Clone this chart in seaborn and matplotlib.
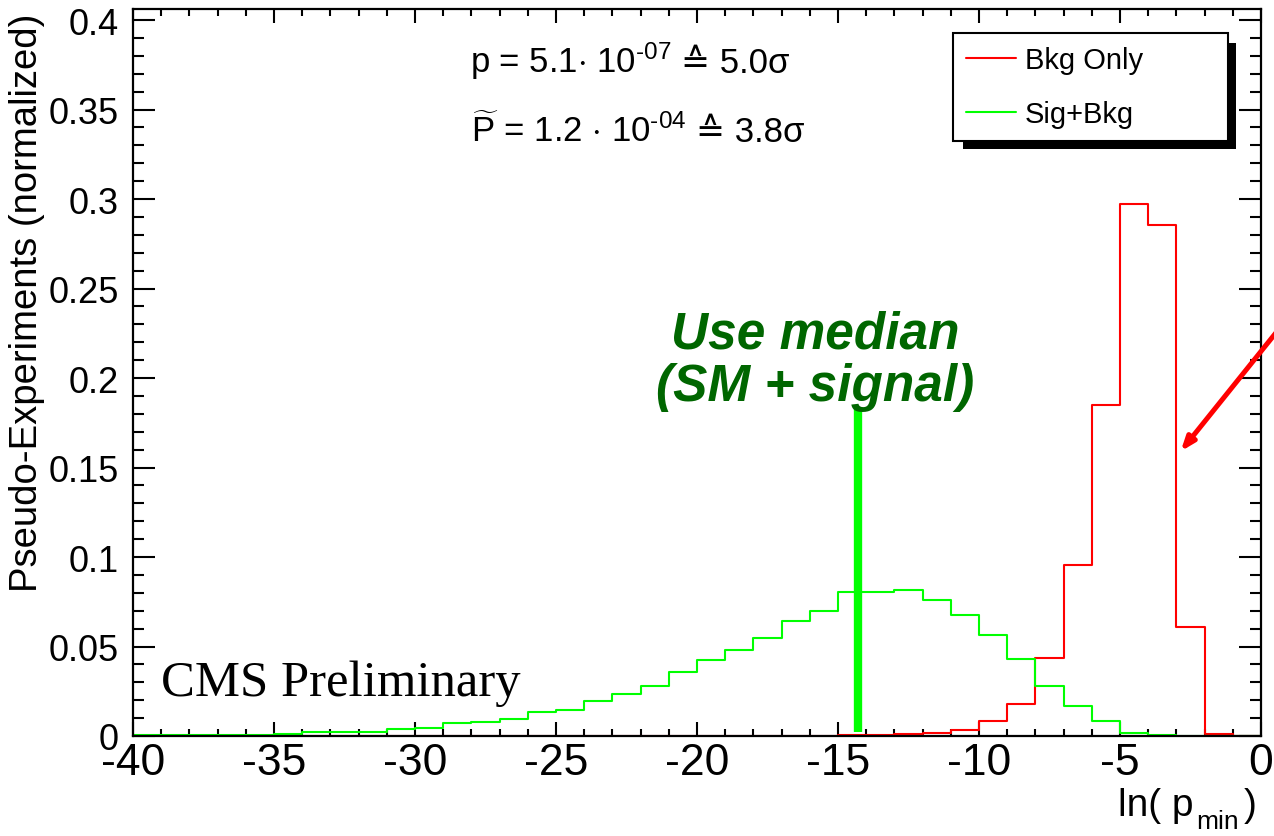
import matplotlib
matplotlib.use("Agg")
import matplotlib.pyplot as plt
import seaborn as sns
import numpy as np
from matplotlib.ticker import MultipleLocator, FixedLocator, FixedFormatter
from matplotlib.patches import Rectangle
from matplotlib.lines import Line2D
from matplotlib.offsetbox import TextArea, HPacker, AnnotationBbox

# ---------------- data ----------------
bin_edges = [-40, -39, -38, -37, -36, -35, -34, -33, -32, -31, -30,
             -29, -28, -27, -26, -25, -24, -23, -22, -21, -20,
             -19, -18, -17, -16, -15, -14, -13, -12, -11, -10,
             -9, -8, -7, -6, -5, -4, -3, -2, -1, 0]
bin_centers = [-39.5, -38.5, -37.5, -36.5, -35.5, -34.5, -33.5, -32.5, -31.5, -30.5,
               -29.5, -28.5, -27.5, -26.5, -25.5, -24.5, -23.5, -22.5, -21.5, -20.5,
               -19.5, -18.5, -17.5, -16.5, -15.5, -14.5, -13.5, -12.5, -11.5, -10.5,
               -9.5, -8.5, -7.5, -6.5, -5.5, -4.5, -3.5, -2.5, -1.5, -0.5]
sig_bkg = [0.0004, 0.0004, 0.0004, 0.0004, 0.0004, 0.0010, 0.0023, 0.0023, 0.0023, 0.0038,
           0.0042, 0.0074, 0.0079, 0.0094, 0.0133, 0.0148, 0.0194, 0.0236, 0.0280, 0.0356,
           0.0422, 0.0478, 0.0546, 0.0644, 0.0701, 0.0806, 0.0806, 0.0815, 0.0760, 0.0677,
           0.0563, 0.0433, 0.0282, 0.0169, 0.0082, 0.0016, 0.0008, 0.0002, 0.0, 0.0]
bkg_only = [0.0, 0.0, 0.0, 0.0, 0.0, 0.0, 0.0, 0.0, 0.0, 0.0,
            0.0, 0.0, 0.0, 0.0, 0.0, 0.0, 0.0, 0.0, 0.0, 0.0,
            0.0, 0.0, 0.0, 0.0, 0.0, 0.0003, 0.0005, 0.0010, 0.0019, 0.0033,
            0.0082, 0.0181, 0.0437, 0.0957, 0.1850, 0.2975, 0.2855, 0.0608, 0.0010, 0.0]
series_labels = ["Bkg Only", "Sig+Bkg"]
median_x = -14.3
median_top = 0.184
median_bottom = 0.002
arrow_tip = (-2.85, 0.159)
arrow_tail = (0.8, 0.2306)
y_ticks = [0, 0.05, 0.1, 0.15, 0.2, 0.25, 0.3, 0.35, 0.4]
y_tick_labels = ["0", "0.05", "0.1", "0.15", "0.2", "0.25", "0.3", "0.35", "0.4"]
x_ticks = [-40, -35, -30, -25, -20, -15, -10, -5, 0]
x_tick_labels = ["-40", "-35", "-30", "-25", "-20", "-15", "-10", "-5", "0"]

# ---------------- style ----------------
sns.set_style("ticks")
SANS = ["Liberation Sans", "DejaVu Sans"]
plt.rcParams["font.family"] = SANS
plt.rcParams["text.color"] = "black"
plt.rcParams["axes.labelcolor"] = "black"
plt.rcParams["xtick.color"] = "black"
plt.rcParams["ytick.color"] = "black"
plt.rcParams["mathtext.fontset"] = "custom"
plt.rcParams["mathtext.rm"] = "Liberation Sans"
plt.rcParams["mathtext.it"] = "Liberation Sans:italic"
plt.rcParams["mathtext.bf"] = "Liberation Sans:bold"

W, H = 1274, 837
fig = plt.figure(figsize=(W / 100, H / 100), dpi=100)
fig.patch.set_facecolor("white")
ax = fig.add_axes([133 / W, 1 - 737 / H, 1128 / W, 727 / H])

red = "#ff0000"
green = "#00ff00"

sns.histplot(x=bin_centers, weights=bkg_only, bins=bin_edges, element="step",
             fill=False, color=red, linewidth=1.5, ax=ax)
sns.histplot(x=bin_centers, weights=sig_bkg, bins=bin_edges, element="step",
             fill=False, color=green, linewidth=1.5, ax=ax)

ax.plot([median_x, median_x], [median_bottom, median_top], color=green,
        linewidth=6, solid_capstyle="butt", zorder=3)

ax.set_xlim(-40, 0)
ax.set_ylim(0, 0.4062)
ax.set_xlabel("")
ax.set_ylabel("")

ax.xaxis.set_major_locator(FixedLocator(x_ticks))
ax.xaxis.set_major_formatter(FixedFormatter(x_tick_labels))
ax.xaxis.set_minor_locator(MultipleLocator(1))
ax.yaxis.set_major_locator(FixedLocator(y_ticks))
ax.yaxis.set_major_formatter(FixedFormatter(y_tick_labels))
ax.yaxis.set_minor_locator(MultipleLocator(0.01))

for s in ax.spines.values():
    s.set_linewidth(1.6)
    s.set_color("black")
    s.set_visible(True)

ax.tick_params(which="both", direction="in", top=True, right=True, width=1.5,
               colors="black", labelcolor="black")
ax.xaxis.set_tick_params(which="major", length=10, pad=4, labelsize=32)
ax.xaxis.set_tick_params(which="minor", length=5)
ax.yaxis.set_tick_params(which="major", length=16, pad=10, labelsize=26)
ax.yaxis.set_tick_params(which="minor", length=8)

# axis titles
fig.text(27 / W, 1 - 14 / H, "Pseudo-Experiments (normalized)", rotation=90,
         ha="center", va="top", fontsize=27.5, color="black")
fig.text(1118 / W, 1 - 816 / H, "ln( p", ha="left", va="baseline", fontsize=28,
         color="black")
fig.text(1196 / W, 1 - 829 / H, "min", ha="left", va="baseline", fontsize=19,
         color="black")
fig.text(1257 / W, 1 - 816 / H, ")", ha="right", va="baseline", fontsize=28,
         color="black")


# formula lines (baseline-aligned pieces so that the ≙ sign can use DejaVu Sans)
def formula(parts, xy):
    areas = [TextArea(s, textprops=dict(fontsize=25, family=SANS, color="black"))
             for s in parts]
    box = HPacker(children=areas, align="baseline", pad=0, sep=7)
    ab = AnnotationBbox(box, xy, xycoords="data", box_alignment=(0, 0),
                        frameon=False, pad=0)
    ax.add_artist(ab)


formula([r"p = 5.1$\cdot$ 10$^{\text{-07}}$", "≙ 5.0σ"], (-28.05, 0.366))
formula([r"$\widetilde{\rm P}$ = 1.2 $\cdot$ 10$^{\text{-04}}$", "≙ 3.8σ"], (-28.0, 0.3285))

ax.text(-15.8, 0.2173, "Use median", color="#006600", fontsize=37,
        fontweight="bold", fontstyle="italic", ha="center", va="baseline")
ax.text(-15.8, 0.1875, "(SM + signal)", color="#006600", fontsize=37,
        fontweight="bold", fontstyle="italic", ha="center", va="baseline")
ax.text(-39.0, 0.0229, "CMS Preliminary", fontsize=36.5, ha="left",
        va="baseline", family="Liberation Serif", color="black")

ax.annotate("", xy=arrow_tip, xytext=arrow_tail, xycoords="data",
            textcoords="data", annotation_clip=False,
            arrowprops=dict(arrowstyle="-|>,head_length=0.8,head_width=0.3",
                            color=red, lw=3.6, shrinkA=0, shrinkB=0))

# legend
handles = [Line2D([], [], color=red, lw=1.5), Line2D([], [], color=green, lw=1.5)]
leg = ax.legend(handles, series_labels, loc="upper left",
                bbox_to_anchor=(0.727, 0.9670 - 0.146, 0.2438, 0.146), mode="expand",
                fontsize=21, frameon=True, fancybox=False, framealpha=1,
                edgecolor="black", handlelength=1.7, handletextpad=0.3,
                labelspacing=0.9, borderpad=0.45, borderaxespad=0,
                labelcolor="black")
leg.get_frame().set_linewidth(1.5)
leg.set_zorder(10)

fig.canvas.draw()
bb = leg.get_window_extent()
inv = ax.transAxes.inverted()
(x0, y0) = inv.transform((bb.x0 + 10, bb.y0 - 8))
(x1, y1) = inv.transform((bb.x1 + 8, bb.y1 - 10))
ax.add_patch(Rectangle((x0, y0), x1 - x0, y1 - y0, transform=ax.transAxes,
                       facecolor="black", edgecolor="none", zorder=9,
                       clip_on=False))

fig.savefig("out.png", dpi=100, facecolor="white")
